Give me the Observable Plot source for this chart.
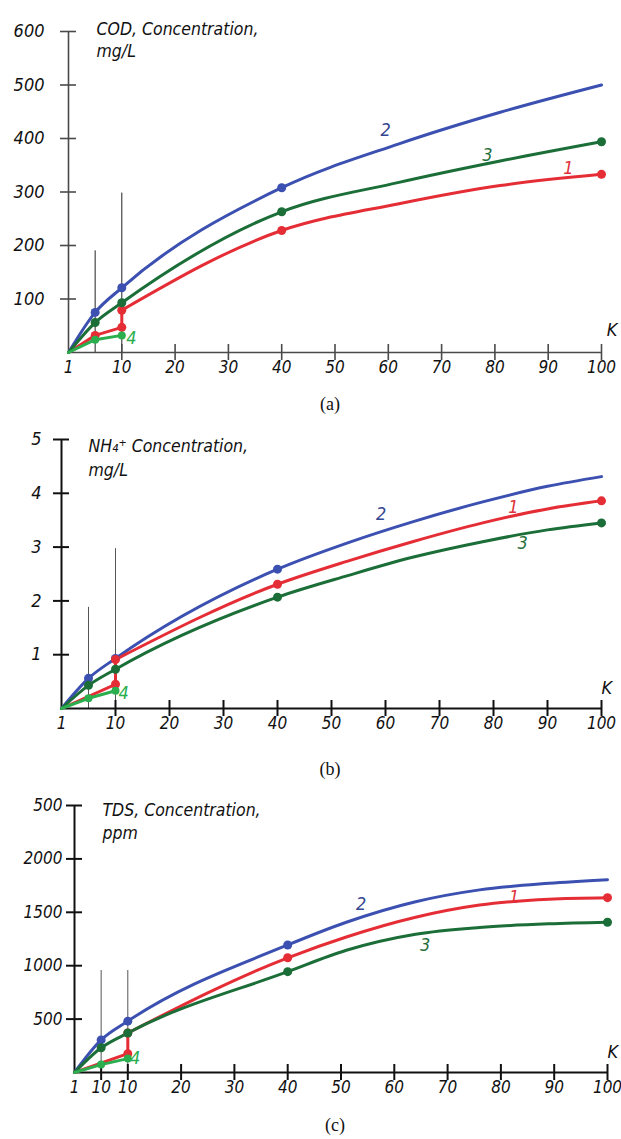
<!DOCTYPE html>
<html><head><meta charset="utf-8">
<script src="https://cdn.jsdelivr.net/npm/d3@7"></script>
<script src="https://cdn.jsdelivr.net/npm/@observablehq/plot@0.6"></script>
<style>
body{margin:0;background:#fff;}
#wrap{position:relative;width:621px;height:1139px;overflow:hidden;}
.panel{position:absolute;left:0;}
.cap{position:absolute;transform:translateX(-50%);font-family:"Liberation Serif","Times New Roman",serif;font-size:18px;color:#111;line-height:20px;}
</style></head><body><div id="wrap"></div>
<script>
// ---- shared x axis (K) ----
const kTicks = [0,10,20,30,40,50,60,70,80,90,100];
const kLabels = ["1","10","20","30","40","50","60","70","80","90","100"];
const kTicksC = [0,5,10,20,30,40,50,60,70,80,90,100];
const kLabelsC = ["1","10","10","20","30","40","50","60","70","80","90","100"];
const dotK = [5,10,40,100];   // measured points shown with dots

// ---- (a) COD ----
const codYTicks = [100,200,300,400,500,600];
const codYLabels = ["100","200","300","400","500","600"];
const codK = [0,5,10,40,62,81,100];
const codBlue = [0,75,121,308,390,449,500];
const codGreen = [0,56,93,263,318,358,394];
const codRedK = [0,5,10,10,40,62,81,100];
const codRed = [0,32,47,79,228,278,312,333];
const codLimeK = [0,5,10];
const codLime = [0,24,32];
const codBarK = [5,10];
const codBar = [190,298];
const codNames = ["2","3","1","4"];
const codNameK = [59.5,78.6,93.8,11.8];
const codNameV = [415,368,344,26];

// ---- (b) NH4+ ----
const nhYTicks = [1,2,3,4,5];
const nhYLabels = ["1","2","3","4","5"];
const nhK = [0,5,10,40,53,65,78,90,100];
const nhBlue = [0,0.56,0.93,2.59,3.08,3.47,3.84,4.13,4.31];
const nhGreen = [0,0.43,0.73,2.07,2.47,2.81,3.10,3.32,3.45];
const nhRedK = [0,10,10,40,53,65,78,90,100];
const nhRed = [0,0.45,0.91,2.31,2.74,3.10,3.45,3.71,3.86];
const nhLimeK = [0,5,10];
const nhLime = [0,0.19,0.33];
const nhBarK = [5,10];
const nhBar = [1.88,2.97];
const nhNames = ["2","3","1","4"];
const nhNameK = [59.2,85.4,83.7,11.5];
const nhNameV = [3.62,3.08,3.75,0.28];

// ---- (c) TDS ----
const tdsYTicks = [500,1000,1500,2000,2500];
const tdsYLabels = ["500","1000","1500","2000","500"];
const tdsK = [0,5,10,40,51,64,76,89,100];
const tdsBlue = [0,305,481,1194,1407,1599,1710,1771,1805];
const tdsGreen = [0,231,370,944,1145,1295,1358,1392,1407];
const tdsRedK = [0,10,10,40,51,64,76,89,100];
const tdsRed = [0,176,370,1074,1269,1454,1568,1623,1637];
const tdsLimeK = [0,5,10];
const tdsLime = [0,74,130];
const tdsBarK = [5,10];
const tdsBar = [955,955];
const tdsNames = ["2","3","1","4"];
const tdsNameK = [53.8,65.8,82.5,11.4];
const tdsNameV = [1574,1194,1639,130];

const COL = {blue:"#3b50b0", red:"#e52d36", green:"#1b6e38", lime:"#2aae4e"};
const LBL = {blue:"#34468f", red:"#e0303a", green:"#1f6e3a", lime:"#2aae4e"};
const nameColors = [LBL.blue, LBL.green, LBL.red, LBL.lime];

const rows = (ks, vs) => ks.map((k, i) => ({k, v: vs[i]}));
const FONT = '"DejaVu Sans", "Liberation Sans", sans-serif';
const CURVE = "monotone-x";

function panel(p) {
  const xmap = new Map(p.xTicks.map((t, i) => [t, p.xLabels[i]]));
  const ymap = new Map(p.yTicks.map((t, i) => [t, p.yLabels[i]]));
  const blue = rows(p.k, p.blue), green = rows(p.k, p.green);
  const red = rows(p.redK, p.red), lime = rows(p.limeK, p.lime);
  let j = p.redK.findIndex((k, i) => i > 0 && k === p.redK[i - 1]);
  const redA = red.slice(0, j + 1), redB = red.slice(j);
  const isDot = d => dotK.includes(d.k);
  const ax = {stroke: p.axisColor, strokeWidth: p.axisWidth};
  const marks = [
    Plot.ruleX(rows(p.barK, p.bar), {x: "k", y1: 0, y2: "v", stroke: p.barColor, strokeWidth: 1}),
    Plot.ruleY([0], {x1: 0, x2: 100, ...ax}),
    Plot.ruleX([0], {y1: 0, y2: p.yMax, ...ax}),
    Plot.ruleX(p.xTicks.filter(t => t > 0), {x: d => d, y1: 0, y2: 0, insetTop: -8, insetBottom: -8, ...ax}),
    Plot.ruleY(p.yTicks, {y: d => d, x1: 0, x2: 0, insetLeft: -8, insetRight: -8, ...ax}),
    Plot.axisX({ticks: p.xTicks, tickFormat: d => xmap.get(d), tickSize: 0, tickPadding: 8, fontSize: p.xFont, label: null, fill: "#111"}),
    Plot.axisY({ticks: p.yTicks, tickFormat: d => ymap.get(d), tickSize: 0, tickPadding: p.yPad, fontSize: p.yFont, label: null, fill: "#111"}),
    Plot.line(blue, {x: "k", y: "v", stroke: COL.blue, strokeWidth: 3, curve: CURVE}),
    Plot.line(redA, {x: "k", y: "v", stroke: COL.red, strokeWidth: 3}),
    Plot.line(redB, {x: "k", y: "v", stroke: COL.red, strokeWidth: 3, curve: CURVE}),
    Plot.line(green, {x: "k", y: "v", stroke: COL.green, strokeWidth: 3, curve: CURVE}),
    Plot.line(lime, {x: "k", y: "v", stroke: COL.lime, strokeWidth: 3}),
    Plot.dot(blue.filter(d => isDot(d) && d.k < 100), {x: "k", y: "v", fill: COL.blue, r: 4.5}),
    Plot.dot(red.filter(isDot), {x: "k", y: "v", fill: COL.red, r: 4.5}),
    Plot.dot(green.filter(isDot), {x: "k", y: "v", fill: COL.green, r: 4.5}),
    Plot.dot(lime.filter(isDot), {x: "k", y: "v", fill: COL.lime, r: 4}),
    ...p.names.map((t, i) => Plot.text([t], {x: p.nameK[i], y: p.nameV[i], text: d => d, fill: nameColors[i], fontSize: 18})),
    Plot.text(["K"], {x: p.KPos[0], y: p.KPos[1], text: d => d, fill: "#111", fontSize: 18}),
    Plot.text([p.title], {frameAnchor: "top-left", dx: p.titleDx, dy: p.titleDy, lineAnchor: "top", textAnchor: "start", text: d => d, fontSize: 17.5, lineHeight: p.titleLH, fill: "#111"})
  ];
  const svg = Plot.plot({
    width: 621, height: p.height,
    marginTop: p.mt, marginBottom: p.mb, marginLeft: p.ml, marginRight: p.mr,
    x: {domain: [0, 100]}, y: {domain: [0, p.yMax]},
    style: {fontFamily: FONT, fontStyle: "italic", fontStretch: "condensed", background: "transparent", overflow: "visible"},
    marks
  });
  svg.classList.add("panel");
  svg.style.top = p.top + "px";
  return svg;
}

const wrap = document.getElementById("wrap");
wrap.appendChild(panel({
  top: 0, height: 385, mt: 31, mb: 33, ml: 68, mr: 20, yMax: 600, yPad: 24, xFont: 17, yFont: 18,
  xTicks: kTicks, xLabels: kLabels, yTicks: codYTicks, yLabels: codYLabels,
  k: codK, blue: codBlue, green: codGreen, redK: codRedK, red: codRed, limeK: codLimeK, lime: codLime,
  barK: codBarK, bar: codBar, names: codNames, nameK: codNameK, nameV: codNameV,
  KPos: [102, 41], title: "COD, Concentration,\nmg/L", titleDx: 28, titleDy: -13, titleLH: 1.3,
  axisColor: "#4a4a4a", axisWidth: 1.6, barColor: "#222"
}));
wrap.appendChild(panel({
  top: 420, height: 330, mt: 19, mb: 42, ml: 61, mr: 20, yMax: 5, yPad: 20, xFont: 17, yFont: 18,
  xTicks: kTicks, xLabels: kLabels, yTicks: nhYTicks, yLabels: nhYLabels,
  k: nhK, blue: nhBlue, green: nhGreen, redK: nhRedK, red: nhRed, limeK: nhLimeK, lime: nhLime,
  barK: nhBarK, bar: nhBar, names: nhNames, nameK: nhNameK, nameV: nhNameV,
  KPos: [101, 0.37], title: "NH\u2084\u207A Concentration,\nmg/L", titleDx: 27, titleDy: -5, titleLH: 1.38,
  axisColor: "#111", axisWidth: 2, barColor: "#555"
}));
wrap.appendChild(panel({
  top: 785, height: 320, mt: 20, mb: 33, ml: 74, mr: 14, yMax: 2500, yPad: 12, xFont: 17, yFont: 17,
  xTicks: kTicksC, xLabels: kLabelsC, yTicks: tdsYTicks, yLabels: tdsYLabels,
  k: tdsK, blue: tdsBlue, green: tdsGreen, redK: tdsRedK, red: tdsRed, limeK: tdsLimeK, lime: tdsLime,
  barK: tdsBarK, bar: tdsBar, names: tdsNames, nameK: tdsNameK, nameV: tdsNameV,
  KPos: [101, 194], title: "TDS, Concentration,\nppm", titleDx: 28, titleDy: -6, titleLH: 1.32,
  axisColor: "#111", axisWidth: 2, barColor: "#555"
}));
[["(a)", 330, 394], ["(b)", 330, 759], ["(c)", 335, 1115]].forEach(([t, x, y]) => {
  const d = document.createElement("div");
  d.className = "cap"; d.textContent = t; d.style.left = x + "px"; d.style.top = y + "px";
  wrap.appendChild(d);
});
</script>
</body></html>
